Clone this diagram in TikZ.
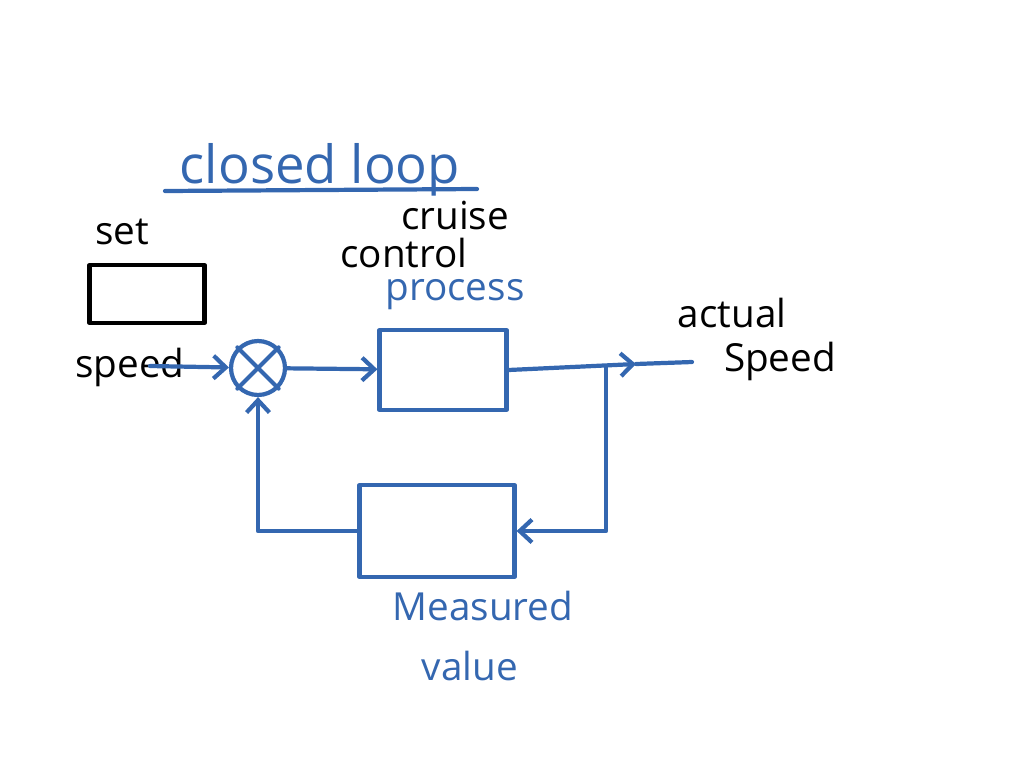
\documentclass[tikz,border=0pt]{standalone}
\usepackage{fontspec}
\setsansfont{Open Sans}
\usetikzlibrary{arrows.meta}
\definecolor{ink}{RGB}{52,103,176}
\tikzset{
  hand/.style={font=\sffamily\fontsize{22}{26}\selectfont,anchor=base},
  blk/.style={draw,rectangle,inner sep=0pt},
}
\begin{document}
\begin{tikzpicture}[x=0.02cm,y=-0.02cm,>={Straight Barb[length=7pt,width=13pt]},line width=2.4pt,line cap=round,line join=round]
\useasboundingbox (0,0) rectangle (1024,768);

% title
\node[hand,ink,font=\sffamily\fontsize{30}{34}\selectfont] (title) at (320,183) {closed loop};
\draw[ink] (165,191) -- (477,189);

% set speed input
\node[hand] (lset) at (122,244) {set};
\node[blk,black,minimum width=2.3cm,minimum height=1.16cm] (setbox) at (147,294) {};
\node[hand] (lspeed) at (130,377) {speed};

% loop blocks
\node[draw=ink,circle,minimum size=1.08cm,inner sep=0pt] (sum) at (258,368) {};
\draw[ink] (sum.north west) -- (sum.south east) (sum.north east) -- (sum.south west);
\node[blk,draw=ink,minimum width=2.54cm,minimum height=1.6cm] (proc) at (443,370) {};
\node[blk,draw=ink,minimum width=3.1cm,minimum height=1.84cm] (meas) at (437,531) {};

\node[hand] (lcruise) at (455,229) {cruise};
\node[hand] (lcontrol) at (404,267) {control};
\node[hand,ink] (lproc) at (455,300) {process};
\node[hand] (lactual) at (732,327) {actual};
\node[hand] (lout) at (780,371) {Speed};
\node[hand,ink] (lmeas) at (483,620) {Measured};
\node[hand,ink] (lvalue) at (470,680) {value};

% signal lines
\coordinate (sin) at (150,366);
\coordinate (head) at (636,364);
\coordinate (yout) at (692,362);
\coordinate (tap) at (606,366);
\draw[ink,->] (sin) -- (sum);
\draw[ink,->] (sum) -- (proc);
\draw[ink,->] (proc.east) -- (head);
\draw[ink] (head) -- (yout);
\draw[ink,->] (tap) |- (meas.east);
\draw[ink,->] (meas.west) -| (sum.south);
\end{tikzpicture}
\end{document}
